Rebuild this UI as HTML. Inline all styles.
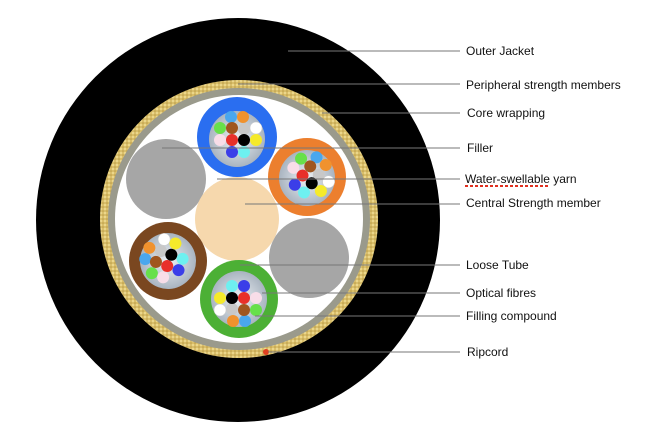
<!DOCTYPE html>
<html><head><style>
body{margin:0;background:#fff;width:664px;height:440px;overflow:hidden}
text{font-family:"Liberation Sans",Arial,sans-serif;font-size:12px;fill:#111}
</style></head><body>
<svg width="664" height="440" viewBox="0 0 664 440">
<defs>
<pattern id="gold" width="4" height="4" patternUnits="userSpaceOnUse">
<rect width="4" height="4" fill="#d9be6a"/><circle cx="1" cy="1" r="1" fill="#f1de95"/><circle cx="3" cy="3" r="0.8" fill="#b89a45"/>
</pattern>
<radialGradient id="gel" cx="50%" cy="50%" r="50%"><stop offset="0" stop-color="#eef2f6"/><stop offset="1" stop-color="#a9b4c0"/></radialGradient>
<g id="fib">
<circle r="28" fill="url(#gel)"/>
<circle cx="-6" cy="-22" r="6" fill="#4aa7ee"/>
<circle cx="6" cy="-22" r="6" fill="#f0922e"/>
<circle cx="-17" cy="-11" r="6" fill="#67e04a"/>
<circle cx="-5" cy="-11" r="6" fill="#a0561f"/>
<circle cx="7" cy="-10" r="6" fill="#c8c8c8"/>
<circle cx="19" cy="-11" r="6" fill="#fff" stroke="#ccc" stroke-width=".5"/>
<circle cx="-17" cy="1" r="6" fill="#f8dde8"/>
<circle cx="-5" cy="1" r="6" fill="#e8302a"/>
<circle cx="7" cy="1" r="6" fill="#000"/>
<circle cx="19" cy="1" r="6" fill="#f5ea2a"/>
<circle cx="-5" cy="13" r="6" fill="#3b3ee8"/>
<circle cx="7" cy="13" r="6" fill="#6ef0f0"/>
</g>
</defs>
<circle cx="238" cy="220" r="202" fill="#000"/>
<circle cx="239" cy="219" r="139" fill="url(#gold)"/>
<circle cx="239" cy="219" r="131" fill="#9a9a8c"/>
<circle cx="239" cy="219" r="124" fill="#fff"/>
<circle cx="166" cy="179" r="40" fill="#a6a6a6"/>
<circle cx="309" cy="258" r="40" fill="#a6a6a6"/>
<circle cx="237" cy="219" r="42" fill="#f6d8ad"/>
<circle cx="237" cy="137" r="40" fill="#2a6ef0"/>
<use href="#fib" x="237" y="139"/>
<circle cx="307" cy="177" r="39" fill="#ec7f2e"/>
<g transform="translate(307,178) rotate(40)"><use href="#fib"/></g>
<circle cx="168" cy="261" r="39" fill="#7a4720"/>
<g transform="translate(168,261) rotate(-70)"><use href="#fib"/></g>
<circle cx="239" cy="299" r="39" fill="#4cb035"/>
<g transform="translate(239,299) rotate(180)"><use href="#fib"/></g>
<circle cx="266" cy="352" r="3" fill="#e04020"/>
<g stroke="#777" stroke-width="1">
<line x1="288" y1="51" x2="460" y2="51"/>
<line x1="238" y1="84" x2="460" y2="84"/>
<line x1="322" y1="113" x2="460" y2="113"/>
<line x1="162" y1="148" x2="460" y2="148"/>
<line x1="217" y1="179" x2="460" y2="179"/>
<line x1="245" y1="204" x2="460" y2="204"/>
<line x1="240" y1="265" x2="460" y2="265"/>
<line x1="262" y1="293" x2="460" y2="293"/>
<line x1="255" y1="316" x2="460" y2="316"/>
<line x1="268" y1="352" x2="460" y2="352"/>
</g>
<text x="466" y="55">Outer Jacket</text>
<text x="466" y="89">Peripheral strength members</text>
<text x="467" y="117">Core wrapping</text>
<text x="467" y="152">Filler</text>
<text x="465" y="183">Water-swellable yarn</text>
<line x1="465" y1="186" x2="548" y2="186" stroke="#e03020" stroke-width="2" stroke-dasharray="3,2"/>
<text x="466" y="207">Central Strength member</text>
<text x="466" y="269">Loose Tube</text>
<text x="466" y="297">Optical fibres</text>
<text x="466" y="320">Filling compound</text>
<text x="467" y="356">Ripcord</text>
</svg>
</body></html>
